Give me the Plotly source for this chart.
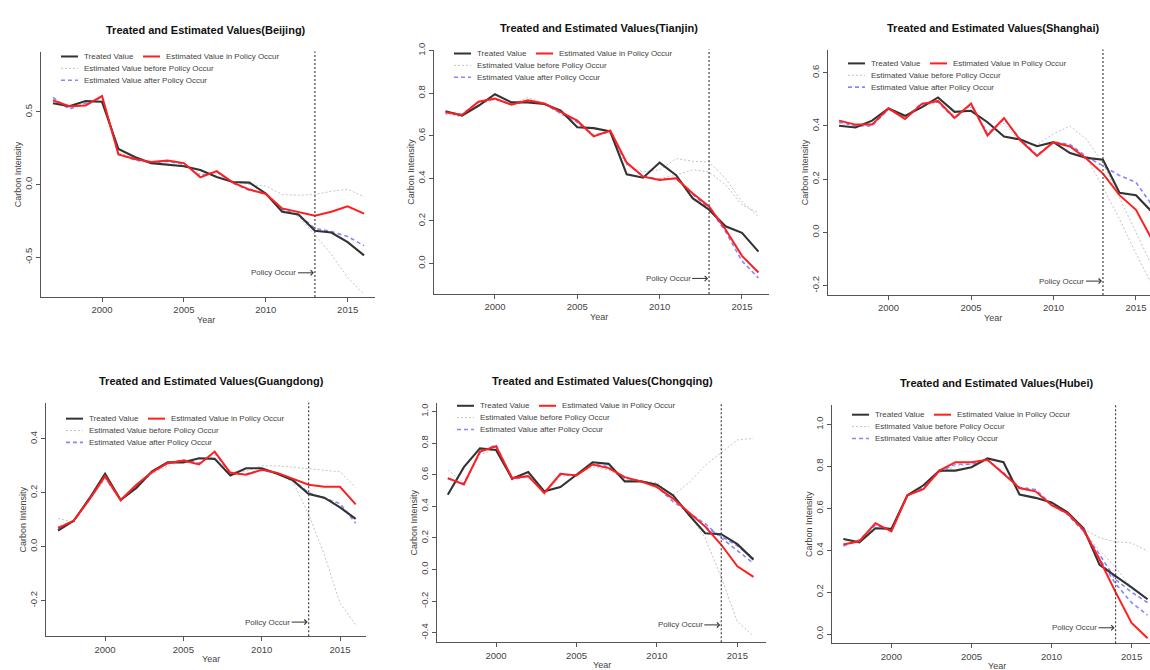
import plotly.graph_objects as go

# carbon intensity, 1997-2016
years = list(range(1997, 2017))

bj_treated = [0.56, 0.54, 0.575, 0.57, 0.245, 0.19, 0.148, 0.136, 0.127, 0.10,
              0.052, 0.018, 0.014, -0.061, -0.187, -0.205, -0.318, -0.33, -0.396, -0.487]
bj_policy = [0.58, 0.54, 0.545, 0.61, 0.207, 0.177, 0.155, 0.166, 0.148, 0.05,
             0.093, 0.014, -0.034, -0.064, -0.164, -0.19, -0.214, -0.187, -0.15, -0.2]
bj_after = [0.60, 0.52, 0.56, 0.60, 0.21, 0.17, 0.152, 0.16, 0.14, 0.06,
            0.09, 0.01, -0.04, -0.06, -0.17, -0.21, -0.30, -0.323, -0.357, -0.42]
bj_before = [0.59, 0.53, 0.55, 0.60, 0.22, 0.18, 0.15, 0.16, 0.15, 0.07,
             0.08, 0.02, 0.0, -0.01, -0.068, -0.073, -0.068, -0.046, -0.032, -0.085]
bj_before_b = [-0.17, -0.22, -0.345, -0.48, -0.64, -0.755]  # from 2011

tj_treated = [0.715, 0.695, 0.741, 0.795, 0.757, 0.757, 0.749, 0.718, 0.64, 0.636,
              0.62, 0.419, 0.403, 0.474, 0.415, 0.307, 0.253, 0.175, 0.144, 0.056]
tj_policy = [0.71, 0.698, 0.76, 0.775, 0.746, 0.767, 0.752, 0.71, 0.671, 0.597,
             0.625, 0.474, 0.408, 0.392, 0.40, 0.33, 0.268, 0.16, 0.036, -0.042]
tj_after = [0.71, 0.70, 0.76, 0.772, 0.748, 0.765, 0.75, 0.705, 0.665, 0.60,
            0.62, 0.47, 0.41, 0.395, 0.40, 0.325, 0.26, 0.15, 0.012, -0.068]
tj_before = [0.70, 0.69, 0.75, 0.77, 0.745, 0.78, 0.75, 0.70, 0.66, 0.61,
             0.61, 0.46, 0.43, 0.44, 0.493, 0.48, 0.477, 0.40, 0.29, 0.22]
tj_before_b = [0.40, 0.415, 0.44, 0.43, 0.37, 0.276, 0.237]  # from 2010

sh_treated = [0.401, 0.394, 0.42, 0.466, 0.438, 0.47, 0.507, 0.453, 0.457, 0.414,
              0.36, 0.349, 0.324, 0.339, 0.298, 0.28, 0.273, 0.149, 0.14, 0.075]
sh_policy = [0.42, 0.405, 0.405, 0.466, 0.426, 0.482, 0.494, 0.43, 0.484, 0.364,
             0.43, 0.345, 0.287, 0.339, 0.323, 0.277, 0.221, 0.14, 0.085, -0.03]
sh_after = [0.415, 0.40, 0.40, 0.463, 0.43, 0.485, 0.49, 0.428, 0.48, 0.37,
            0.425, 0.35, 0.29, 0.34, 0.33, 0.285, 0.25, 0.214, 0.188, 0.10]
sh_before = [0.41, 0.40, 0.41, 0.46, 0.43, 0.47, 0.49, 0.44, 0.47, 0.38,
             0.41, 0.34, 0.33, 0.37, 0.40, 0.35, 0.26, 0.13, 0.0, -0.13]
sh_before_b = [0.33, 0.28, 0.17, 0.05, -0.08, -0.20]  # from 2011

gd_treated = [0.06, 0.096, 0.179, 0.271, 0.173, 0.218, 0.28, 0.313, 0.313, 0.328,
              0.326, 0.264, 0.291, 0.291, 0.271, 0.246, 0.195, 0.182, 0.146, 0.103]
gd_policy = [0.069, 0.097, 0.175, 0.262, 0.173, 0.23, 0.277, 0.31, 0.32, 0.305,
             0.353, 0.274, 0.267, 0.285, 0.274, 0.252, 0.23, 0.222, 0.222, 0.157]
gd_after = [0.072, 0.094, 0.178, 0.258, 0.172, 0.225, 0.275, 0.31, 0.322, 0.31,
            0.35, 0.27, 0.27, 0.284, 0.272, 0.248, 0.20, 0.18, 0.16, 0.087]
gd_before = [0.105, 0.09, 0.17, 0.25, 0.17, 0.22, 0.27, 0.30, 0.32, 0.31,
             0.34, 0.28, 0.28, 0.30, 0.30, 0.295, 0.29, 0.285, 0.278, 0.22]
gd_before_b = [0.27, 0.24, 0.12, -0.03, -0.21, -0.29]  # from 2011

cq_treated = [0.474, 0.648, 0.767, 0.757, 0.575, 0.617, 0.495, 0.522, 0.60, 0.679,
              0.669, 0.558, 0.558, 0.537, 0.47, 0.345, 0.23, 0.224, 0.161, 0.063]
cq_policy = [0.579, 0.539, 0.746, 0.78, 0.579, 0.591, 0.485, 0.606, 0.596, 0.665,
             0.642, 0.585, 0.558, 0.522, 0.449, 0.362, 0.272, 0.157, 0.021, -0.046]
cq_after = [0.575, 0.545, 0.74, 0.79, 0.57, 0.59, 0.49, 0.60, 0.60, 0.67,
            0.65, 0.58, 0.56, 0.525, 0.43, 0.36, 0.29, 0.20, 0.12, 0.04]
cq_after_b = [0.27, 0.21, 0.15, 0.07]  # from 2013
cq_before = [0.63, 0.55, 0.73, 0.76, 0.58, 0.62, 0.47, 0.59, 0.60, 0.65,
             0.63, 0.57, 0.56, 0.55, 0.47, 0.55, 0.66, 0.74, 0.82, 0.83]
cq_before_b = [0.35, 0.20, -0.05, -0.33, -0.42]  # from 2012

hb_treated = [0.454, 0.438, 0.505, 0.502, 0.662, 0.71, 0.78, 0.78, 0.796, 0.838,
              0.82, 0.666, 0.65, 0.628, 0.581, 0.505, 0.33, 0.278, 0.223, 0.166]
hb_policy = [0.427, 0.443, 0.529, 0.49, 0.662, 0.691, 0.78, 0.82, 0.82, 0.832,
             0.765, 0.697, 0.681, 0.615, 0.576, 0.498, 0.356, 0.20, 0.053, -0.02]
hb_after = [0.42, 0.45, 0.52, 0.50, 0.66, 0.70, 0.775, 0.81, 0.81, 0.83,
            0.77, 0.70, 0.69, 0.62, 0.57, 0.49, 0.38, 0.26, 0.20, 0.15]
hb_after_b = [0.49, 0.36, 0.24, 0.15, 0.09]  # from 2012
hb_before = [0.43, 0.44, 0.52, 0.50, 0.66, 0.71, 0.77, 0.80, 0.81, 0.83,
             0.77, 0.69, 0.68, 0.62, 0.58, 0.50, 0.46, 0.44, 0.435, 0.396]
hb_before_b = [0.49, 0.40, 0.32, 0.22, 0.17]  # from 2012

W, H = 1150, 670
FONT = "Liberation Sans, Arial, sans-serif"


def fx(p):
    return p / W


def fy(p):
    return 1 - p / H


# pixel boxes of the plot regions, axis ranges and tick values
panels = [
    dict(name="Beijing", treated=bj_treated, policy=bj_policy,
         after=[(1997, bj_after)], before=[(1997, bj_before), (2011, bj_before_b)],
         year=2013, box=(41, 375, 45, 293), xr=[1996.27, 2016.67], yr=[-0.773, 0.916],
         yt=[-0.5, 0.0, 0.5], arrow_y=-0.607, leg=5),
    dict(name="Tianjin", treated=tj_treated, policy=tj_policy,
         after=[(1997, tj_after)], before=[(1997, tj_before), (2010, tj_before_b)],
         year=2013, box=(434, 769, 43, 290), xr=[1996.3, 2016.64], yr=[-0.143, 1.005],
         yt=[0.0, 0.2, 0.4, 0.6, 0.8, 1.0], arrow_y=-0.07, leg=4),
    dict(name="Shanghai", treated=sh_treated, policy=sh_policy,
         after=[(1997, sh_after)], before=[(1997, sh_before), (2011, sh_before_b)],
         year=2013, box=(828, 1150, 43, 291), xr=[1996.33, 2015.85], yr=[-0.235, 0.687],
         yt=[-0.2, 0.0, 0.2, 0.4, 0.6], arrow_y=-0.183, leg=14),
    dict(name="Guangdong", treated=gd_treated, policy=gd_policy,
         after=[(1997, gd_after)], before=[(1997, gd_before), (2011, gd_before_b)],
         year=2013, box=(46, 366, 400, 636), xr=[1996.23, 2016.66], yr=[-0.333, 0.534],
         yt=[-0.2, 0.0, 0.2, 0.4], arrow_y=-0.28, leg=16),
    dict(name="Chongqing", treated=cq_treated, policy=cq_policy,
         after=[(1997, cq_after), (2013, cq_after_b)], before=[(1997, cq_before), (2012, cq_before_b)],
         year=2014, box=(437, 766, 400, 642), xr=[1996.33, 2016.78], yr=[-0.46, 1.055],
         yt=[-0.4, -0.2, 0.0, 0.2, 0.4, 0.6, 0.8, 1.0], arrow_y=-0.35, leg=3),
    dict(name="Hubei", treated=hb_treated, policy=hb_policy,
         after=[(1997, hb_after), (2012, hb_after_b)], before=[(1997, hb_before), (2012, hb_before_b)],
         year=2014, box=(832, 1150, 402, 643), xr=[1996.29, 2016.15], yr=[-0.044, 1.094],
         yt=[0.0, 0.2, 0.4, 0.6, 0.8, 1.0], arrow_y=0.03, leg=10),
]

BLACK = "#333333"
RED = "#ff1f1f"
BLUE = "rgba(95,95,255,0.75)"
GRAY = "#c4c4c4"
AXIS = "#555555"
TEXT = "#444444"
DASH = "4px,3px"
DOT = "2px,2px"

fig = go.Figure()
annotations = []
shapes = []

for i, p in enumerate(panels, start=1):
    xa = "x" if i == 1 else f"x{i}"
    ya = "y" if i == 1 else f"y{i}"
    x0, x1, y0, y1 = p["box"]

    for start, vals in p["before"]:
        fig.add_trace(go.Scatter(x=list(range(start, 2017)), y=vals, mode="lines",
                                 line=dict(color=GRAY, width=1, dash=DOT),
                                 xaxis=xa, yaxis=ya, showlegend=False))
    for start, vals in p["after"]:
        fig.add_trace(go.Scatter(x=list(range(start, 2017)), y=vals, mode="lines",
                                 line=dict(color=BLUE, width=1.6, dash=DASH),
                                 xaxis=xa, yaxis=ya, showlegend=False))
    fig.add_trace(go.Scatter(x=years, y=p["treated"], mode="lines",
                             line=dict(color=BLACK, width=2.1),
                             xaxis=xa, yaxis=ya, showlegend=False))
    fig.add_trace(go.Scatter(x=years, y=p["policy"], mode="lines",
                             line=dict(color=RED, width=2),
                             xaxis=xa, yaxis=ya, showlegend=False))

    axis_common = dict(showline=True, linecolor=AXIS, linewidth=1, ticks="outside",
                       ticklen=4, tickcolor=AXIS, showgrid=False, zeroline=False,
                       tickfont=dict(family=FONT, size=9.5, color=TEXT))
    fig.layout[("xaxis" if i == 1 else f"xaxis{i}")] = dict(
        domain=[fx(x0), fx(x1)], range=p["xr"], anchor=ya,
        tickvals=[2000, 2005, 2010, 2015], **axis_common)
    fig.layout[("yaxis" if i == 1 else f"yaxis{i}")] = dict(
        domain=[fy(y1), fy(y0)], range=p["yr"], anchor=xa,
        tickvals=p["yt"], ticktext=[f"{v:.1f}" for v in p["yt"]],
        tickangle=-90, **axis_common)

    # policy line and marker
    shapes.append(dict(type="line", xref=xa, yref=f"{ya} domain", x0=p["year"], x1=p["year"],
                       y0=0, y1=1, line=dict(color="#444444", width=1.2, dash=DOT)))
    annotations.append(dict(x=p["year"], y=p["arrow_y"], xref=xa, yref=ya, text="Policy Occur",
                            showarrow=True, ax=-41, ay=0, arrowhead=4, arrowsize=1,
                            arrowwidth=1, arrowcolor="#333333", standoff=1,
                            font=dict(family=FONT, size=8, color=TEXT)))

    # titles
    annotations.append(dict(x=fx((x0 + x0 + 330) / 2), y=fy(y0 - 22), xref="paper", yref="paper",
                            text=f"<b>Treated and Estimated Values({p['name']})</b>",
                            showarrow=False, xanchor="center", yanchor="middle",
                            font=dict(family=FONT, size=11, color="#111111")))
    annotations.append(dict(x=fx(x0 - 23), y=fy((y0 + y1) / 2), xref="paper", yref="paper",
                            text="Carbon Intensity", textangle=-90, showarrow=False,
                            xanchor="center", yanchor="middle",
                            font=dict(family=FONT, size=9, color=TEXT)))
    annotations.append(dict(x=fx((x0 + x0 + 330) / 2), y=fy(y1 + 23), xref="paper", yref="paper",
                            text="Year", showarrow=False, xanchor="center", yanchor="middle",
                            font=dict(family=FONT, size=9, color=TEXT)))

    # legend, drawn the R way
    r1 = y0 + p["leg"]
    rows = [(x0 + 20, r1, BLACK, 2, "solid", "Treated Value"),
            (x0 + 102, r1, RED, 2, "solid", "Estimated Value in Policy Occur"),
            (x0 + 20, r1 + 12, GRAY, 1, DOT, "Estimated Value before Policy Occur"),
            (x0 + 20, r1 + 24, BLUE, 1.6, DASH, "Estimated Value after Policy Occur")]
    for lx, ly, col, w, dash, label in rows:
        shapes.append(dict(type="line", xref="paper", yref="paper", x0=fx(lx), x1=fx(lx + 17),
                           y0=fy(ly), y1=fy(ly), line=dict(color=col, width=w, dash=dash)))
        annotations.append(dict(x=fx(lx + 21), y=fy(ly), xref="paper", yref="paper", text=label,
                                showarrow=False, xanchor="left", yanchor="middle",
                                font=dict(family=FONT, size=8, color=TEXT)))

fig.update_layout(width=W, height=H, margin=dict(l=0, r=0, t=0, b=0),
                  paper_bgcolor="white", plot_bgcolor="white",
                  annotations=annotations, shapes=shapes, showlegend=False)

fig.write_html("out.html", config={"displayModeBar": False},
               post_script="document.body.style.margin='0';")
